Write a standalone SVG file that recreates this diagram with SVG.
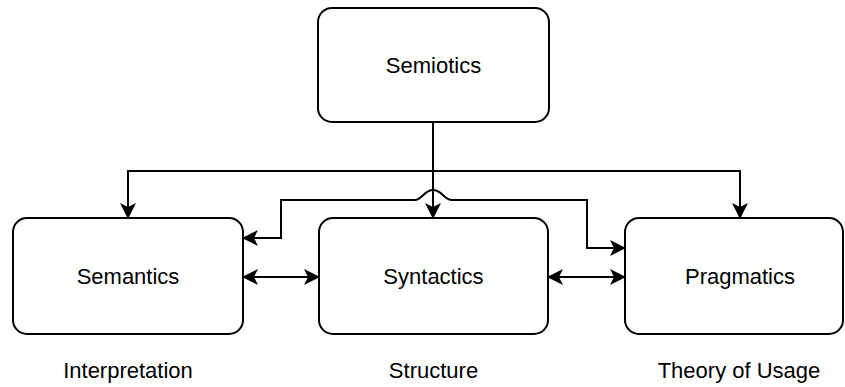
<svg xmlns="http://www.w3.org/2000/svg" width="845" height="387" viewBox="0 0 845 387">
  <style>
    .box { fill: #ffffff; stroke: #000000; stroke-width: 2; }
    .lbl { font-family: "Liberation Sans", Arial, Helvetica, sans-serif; font-size: 22px; fill: #000000; text-anchor: middle; }
    .edge { fill: none; stroke: #000000; stroke-width: 2; }
  </style>
  <defs>
    <marker id="arrow" viewBox="0 0 16 16" refX="15" refY="8" markerWidth="16" markerHeight="16" markerUnits="userSpaceOnUse" orient="auto-start-reverse">
      <path d="M0,0 L16,8 L0,16 L4,8 Z" fill="#000000"/>
    </marker>
  </defs>

  <rect width="845" height="387" fill="#ffffff"/>

  <!-- connectors -->
  <g id="connectors">
    <!-- Semiotics to Syntactics -->
    <path class="edge" d="M433,122 V218" marker-end="url(#arrow)"/>
    <!-- Semiotics to Semantics -->
    <path class="edge" d="M433,122 V171 H128 V218" marker-end="url(#arrow)"/>
    <!-- Semiotics to Pragmatics -->
    <path class="edge" d="M433,122 V171 H740 V218" marker-end="url(#arrow)"/>
    <!-- Semantics to Pragmatics, hopping over the Syntactics line -->
    <path class="edge" d="M243,238 H281 V200 H415 C422,200 424,190 433,190 C442,190 444,200 452,200 H587 V248 H625" marker-start="url(#arrow)" marker-end="url(#arrow)"/>
    <!-- Semantics to Syntactics -->
    <path class="edge" d="M243,277 H319" marker-start="url(#arrow)" marker-end="url(#arrow)"/>
    <!-- Syntactics to Pragmatics -->
    <path class="edge" d="M548,277 H625" marker-start="url(#arrow)" marker-end="url(#arrow)"/>
  </g>

  <g id="semiotics">
    <rect class="box" x="318" y="8" width="231" height="114" rx="14" ry="14"/>
    <text class="lbl" x="433.5" y="73">Semiotics</text>
  </g>

  <g id="semantics">
    <rect class="box" x="13" y="218" width="230" height="116" rx="14" ry="14"/>
    <text class="lbl" x="128" y="284">Semantics</text>
  </g>

  <g id="syntactics">
    <rect class="box" x="319" y="218" width="229" height="116" rx="14" ry="14"/>
    <text class="lbl" x="433.5" y="284">Syntactics</text>
  </g>

  <g id="pragmatics">
    <rect class="box" x="625" y="218" width="218" height="116" rx="14" ry="14"/>
    <text class="lbl" x="740" y="284">Pragmatics</text>
  </g>

  <g id="interpretation">
    <text class="lbl" x="128" y="378">Interpretation</text>
  </g>

  <g id="structure">
    <text class="lbl" x="433.5" y="378">Structure</text>
  </g>

  <g id="theory-of-usage">
    <text class="lbl" x="739" y="378">Theory of Usage</text>
  </g>
</svg>
